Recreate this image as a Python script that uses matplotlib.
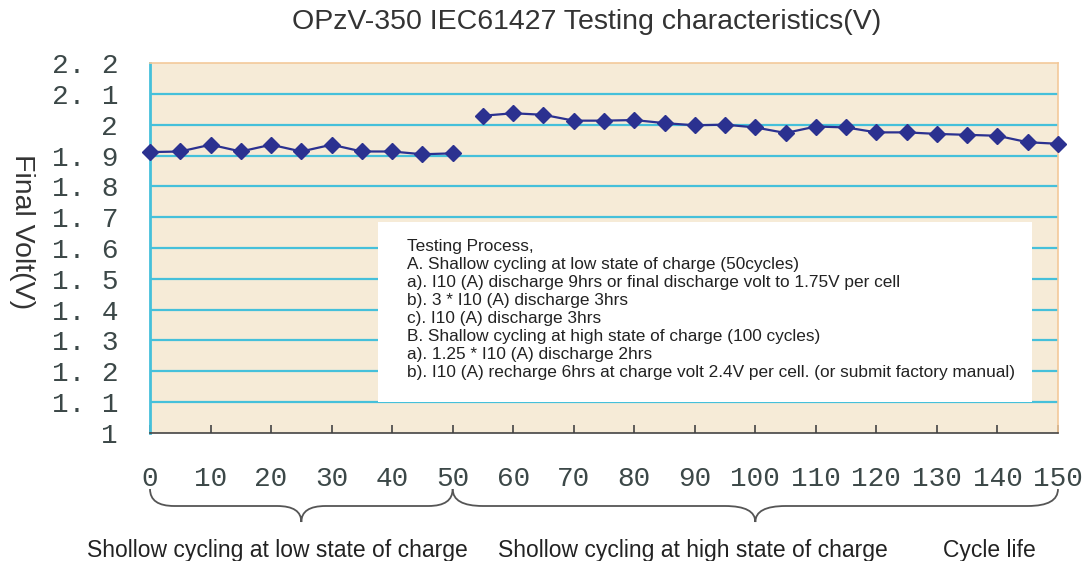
import numpy as np
import matplotlib
matplotlib.use("Agg")
import matplotlib.pyplot as plt
from matplotlib.path import Path
from matplotlib.patches import PathPatch, Rectangle
from matplotlib import transforms

# data
cyc_low = [0, 5, 10, 15, 20, 25, 30, 35, 40, 45, 50]
volt_low = [1.911, 1.913, 1.935, 1.913, 1.935, 1.913, 1.935, 1.913, 1.913, 1.904, 1.907]
cyc_high = [55, 60, 65, 70, 75, 80, 85, 90, 95, 100,
            105, 110, 115, 120, 125, 130, 135, 140, 145, 150]
volt_high = [2.029, 2.037, 2.032, 2.013, 2.013, 2.015, 2.005, 1.998, 2.0, 1.991,
             1.973, 1.994, 1.991, 1.975, 1.975, 1.97, 1.967, 1.964, 1.943, 1.938]
yticks = [1.0, 1.1, 1.2, 1.3, 1.4, 1.5, 1.6, 1.7, 1.8, 1.9, 2.0, 2.1, 2.2]
ylabels = ["1", "1. 1", "1. 2", "1. 3", "1. 4", "1. 5", "1. 6", "1. 7",
           "1. 8", "1. 9", "2", "2. 1", "2. 2"]
xticks = list(range(0, 151, 10))

process_lines = [
    "Testing Process,",
    "A. Shallow cycling at low state of charge (50cycles)",
    "a). I10 (A) discharge 9hrs or final discharge volt to 1.75V per cell",
    "b). 3 * I10 (A) discharge 3hrs",
    "c). I10 (A) discharge 3hrs",
    "B. Shallow cycling at high state of charge (100 cycles)",
    "a). 1.25 * I10 (A) discharge 2hrs",
    "b). I10 (A) recharge 6hrs at charge volt 2.4V per cell. (or submit factory manual)",
]

bg = "#f6ebd7"
grid_c = "#45c0da"
mark_c = "#2b3190"
txt_c = "#333333"
tick_font = "Liberation Mono"

fig = plt.figure(figsize=(10.83, 5.61), dpi=100)
ax = fig.add_axes([150 / 1083, 1 - 433 / 561, 908 / 1083, 370 / 561])
ax.set_facecolor(bg)
ax.set_xlim(0, 150)
ax.set_ylim(1.0, 2.2)

# horizontal grid lines
for yv in yticks[1:-1]:
    ax.axhline(yv, color=grid_c, lw=1.6, zorder=1)

ax.plot(cyc_low, volt_low, color=mark_c, lw=1.6, marker="D", ms=8,
        mfc=mark_c, mec=mark_c, zorder=3, clip_on=False)
ax.plot(cyc_high, volt_high, color=mark_c, lw=1.6, marker="D", ms=8,
        mfc=mark_c, mec=mark_c, zorder=3, clip_on=False)

ax.spines["left"].set_color(grid_c)
ax.spines["left"].set_linewidth(2)
ax.spines["top"].set_color("#f3c99a")
ax.spines["right"].set_color("#f3c99a")
ax.spines["top"].set_linewidth(1.2)
ax.spines["right"].set_linewidth(1.2)
ax.spines["bottom"].set_color("#444444")
ax.spines["bottom"].set_linewidth(1.2)

ax.set_yticks(yticks)
ax.set_yticklabels(ylabels)
ax.set_xticks(xticks)
ax.set_xticklabels([str(v) for v in xticks])
ax.tick_params(axis="y", length=0, pad=23, labelsize=20, labelcolor="#3c4848")
ax.tick_params(axis="x", direction="in", length=6, width=1.2, color="#444444",
               pad=24, labelsize=20, labelcolor="#3c4848")
for lab in ax.get_xticklabels() + ax.get_yticklabels():
    lab.set_family(tick_font)

# text box with the testing process
ax.add_patch(Rectangle((0.251, 0.084), 0.72, 0.486, transform=ax.transAxes,
                       facecolor="white", edgecolor="none", zorder=4))
ax.text(0.283, 0.524, "\n".join(process_lines), transform=ax.transAxes,
        ha="left", va="top", fontsize=12.4, linespacing=1.25, color="#222222",
        family="Liberation Sans", zorder=5)

fig.text(587 / 1083, 1 - 22 / 561, "OPzV-350 IEC61427 Testing characteristics(V)",
         ha="center", va="center", fontsize=20.5, color=txt_c, family="Liberation Sans")
fig.text(22 / 1083, 1 - 232 / 561, "Final Volt(V)", rotation=270,
         ha="center", va="center", fontsize=20.5, color=txt_c, family="Liberation Sans")


# curly braces below the axis
def brace(x0, x1, xc, q):
    trans = transforms.blended_transform_factory(ax.transData, fig.transFigure)
    ytop = 1 - 489 / 561
    ymid = 1 - 506 / 561
    ytip = 1 - 522 / 561
    verts = [(x0, ytop), (x0, ymid), (x0 + q, ymid),
             (xc - q, ymid), (xc, ymid), (xc, ytip),
             (xc, ymid), (xc + q, ymid),
             (x1 - q, ymid), (x1, ymid), (x1, ytop)]
    codes = [Path.MOVETO, Path.CURVE3, Path.CURVE3,
             Path.LINETO, Path.CURVE3, Path.CURVE3,
             Path.CURVE3, Path.CURVE3,
             Path.LINETO, Path.CURVE3, Path.CURVE3]
    p = PathPatch(Path(verts, codes), transform=trans, facecolor="none",
                  edgecolor="#555555", lw=1.3, clip_on=False)
    fig.add_artist(p)


brace(0, 50, 25, 4)
brace(50, 150, 100, 5)

fig.text(277 / 1083, 1 - 550 / 561, "Shollow cycling at low state of charge",
         ha="center", va="center", fontsize=16.5, color="#222222", family="Liberation Sans")
fig.text(693 / 1083, 1 - 551 / 561, "Shollow cycling at high state of charge",
         ha="center", va="center", fontsize=16.5, color="#222222", family="Liberation Sans")
fig.text(989 / 1083, 1 - 551 / 561, "Cycle life",
         ha="center", va="center", fontsize=16.5, color="#222222", family="Liberation Sans")

fig.savefig("out.png", dpi=100, facecolor="white")
